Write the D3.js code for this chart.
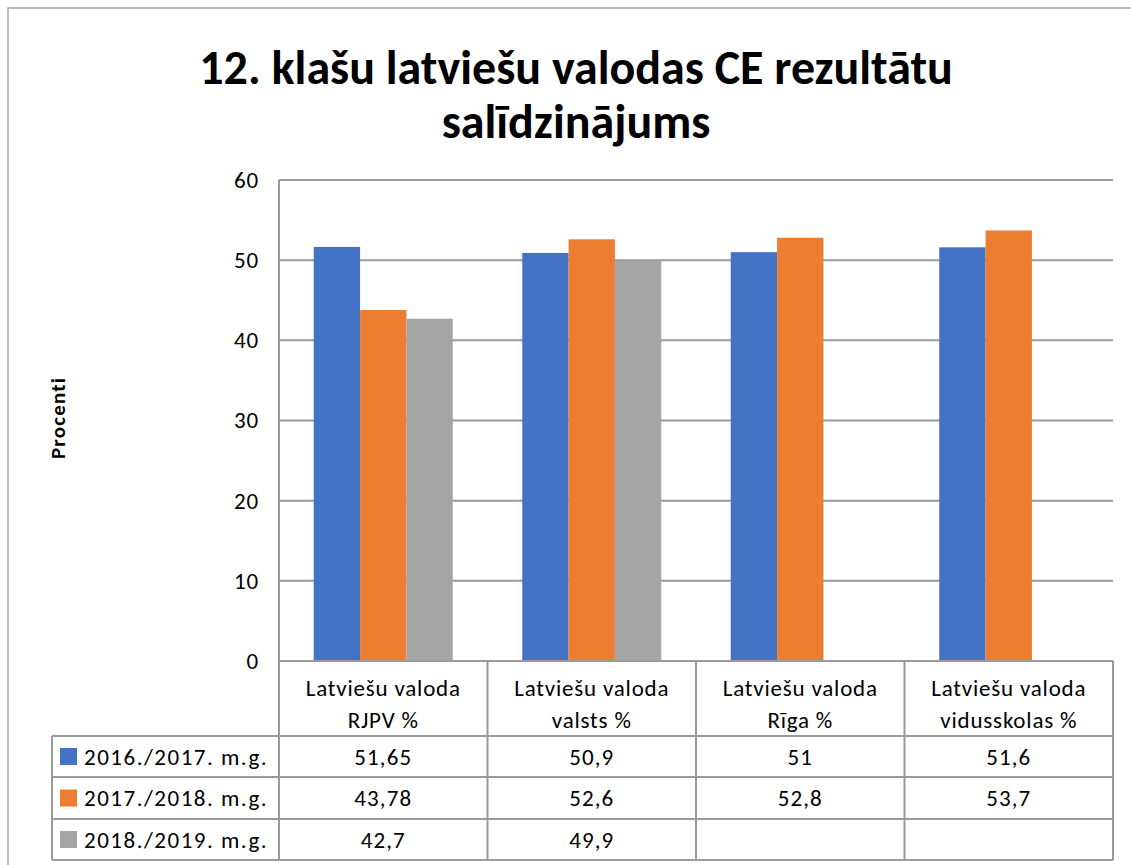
<!DOCTYPE html>
<html>
<head>
<meta charset="utf-8">
<script src="https://cdn.jsdelivr.net/npm/d3@7"></script>
<style>
  html, body { margin: 0; padding: 0; background: #fff; }
  svg { display: block; font-family: Carlito, Calibri, Lato, "Open Sans", sans-serif; }
</style>
</head>
<body>
<svg id="chart" width="1131" height="865"></svg>
<script>
// ---- data ----
const titleLines = ["12. klašu latviešu valodas CE rezultātu", "salīdzinājums"];
const yAxisTitle = "Procenti";
const categories = ["Latviešu valoda\nRJPV %", "Latviešu valoda\nvalsts %", "Latviešu valoda\nRīga %", "Latviešu valoda\nvidusskolas %"];
const seriesNames = ["2016./2017. m.g.", "2017./2018. m.g.", "2018./2019. m.g."];
const series2016 = [51.65, 50.9, 51, 51.6];
const series2017 = [43.78, 52.6, 52.8, 53.7];
const series2018 = [42.7, 49.9, null, null];
const yTicks = [0, 10, 20, 30, 40, 50, 60];
const seriesColors = ["#4472C4", "#ED7D31", "#A5A5A5"];

const seriesValues = [series2016, series2017, series2018];

// ---- layout ----
const svg = d3.select("#chart");
const W = 1131, H = 865;
const plot = { left: 279, right: 1113, top: 180, bottom: 661 };
const rowYs = [661, 736, 777, 819, 860];
const legendLeft = 52;
const gridColor = "#9a9a9a";
const fontSize = 23;
const spacing = 1.1;

// outer border
svg.append("rect")
  .attr("x", 8).attr("y", 8).attr("width", W + 20).attr("height", H + 20)
  .attr("fill", "none").attr("stroke", "#a6a6a6").attr("stroke-width", 1.5);

// title
const title = svg.append("text")
  .attr("text-anchor", "middle")
  .attr("font-weight", "bold")
  .attr("font-size", 48)
  .attr("fill", "#000");
titleLines.forEach((t, i) => {
  title.append("tspan").attr("x", 576).attr("y", 84 + i * 54).text(t);
});

// scales
const x = d3.scaleBand().domain(categories).range([plot.left, plot.right]).paddingInner(0).paddingOuter(0);
const y = d3.scaleLinear().domain([0, 60]).range([plot.bottom, plot.top]);
const bw = x.bandwidth();
const barW = bw / 4.5;       // gap width 150%
const groupOffset = barW * 0.75;
const xs = d3.scaleBand().domain(d3.range(seriesNames.length)).range([groupOffset, groupOffset + barW * 3]).padding(0);

// gridlines
svg.append("g")
  .selectAll("line")
  .data(yTicks.filter(d => d > 0))
  .join("line")
  .attr("x1", plot.left).attr("x2", plot.right)
  .attr("y1", d => y(d)).attr("y2", d => y(d))
  .attr("stroke", gridColor).attr("stroke-width", 2);

// y axis
const yAxis = d3.axisLeft(y).tickValues(yTicks).tickSize(0).tickPadding(20);
const gy = svg.append("g").attr("transform", `translate(${plot.left},0)`).call(yAxis);
gy.select(".domain").remove();
gy.selectAll("text")
  .attr("font-size", fontSize)
  .attr("letter-spacing", 0.8)
  .attr("font-family", "Carlito, Calibri, Lato, 'Open Sans', sans-serif")
  .attr("fill", "#000");

// bars
const groups = svg.append("g").selectAll("g")
  .data(categories)
  .join("g")
  .attr("transform", d => `translate(${x(d)},0)`);
groups.selectAll("rect")
  .data((d, ci) => seriesValues.map((s, si) => ({ si, v: s[ci] })).filter(o => o.v != null))
  .join("rect")
  .attr("x", d => xs(d.si))
  .attr("width", xs.bandwidth())
  .attr("y", d => y(d.v))
  .attr("height", d => y(0) - y(d.v))
  .attr("fill", d => seriesColors[d.si]);

// left axis line
svg.append("line")
  .attr("x1", plot.left).attr("x2", plot.left)
  .attr("y1", plot.top).attr("y2", rowYs[rowYs.length - 1])
  .attr("stroke", gridColor).attr("stroke-width", 2);

// data table
const tbl = svg.append("g").attr("stroke", gridColor).attr("stroke-width", 2);
tbl.append("line").attr("x1", plot.left).attr("x2", plot.right).attr("y1", rowYs[0]).attr("y2", rowYs[0]);
rowYs.slice(1).forEach(ry => {
  tbl.append("line").attr("x1", legendLeft).attr("x2", plot.right).attr("y1", ry).attr("y2", ry);
});
categories.forEach(c => {
  tbl.append("line").attr("x1", x(c) + bw).attr("x2", x(c) + bw).attr("y1", rowYs[0]).attr("y2", rowYs[4]);
});
tbl.append("line").attr("x1", legendLeft).attr("x2", legendLeft).attr("y1", rowYs[1]).attr("y2", rowYs[4]);

// category header text
const hdr = svg.append("g");
categories.forEach(c => {
  const lines = c.split("\n");
  const t = hdr.append("text")
    .attr("text-anchor", "middle")
    .attr("font-size", fontSize)
    .attr("letter-spacing", 0.8)
    .attr("fill", "#000");
  lines.forEach((ln, i) => {
    t.append("tspan").attr("x", x(c) + bw / 2).attr("y", 696 + i * 32).text(ln);
  });
});

// legend rows + values
const fmt = v => String(v).replace(".", ",");
seriesNames.forEach((name, si) => {
  const top = rowYs[si + 1], bot = rowYs[si + 2];
  const mid = (top + bot) / 2;
  svg.append("rect")
    .attr("x", 60).attr("y", mid - 8.5).attr("width", 17).attr("height", 17)
    .attr("fill", seriesColors[si]);
  svg.append("text")
    .attr("x", 84).attr("y", mid + 8)
    .attr("font-size", fontSize).attr("letter-spacing", 1.5).attr("fill", "#000")
    .text(name);
  categories.forEach((c, ci) => {
    const v = seriesValues[si][ci];
    if (v == null) return;
    svg.append("text")
      .attr("x", x(c) + bw / 2).attr("y", mid + 8)
      .attr("text-anchor", "middle")
      .attr("font-size", fontSize).attr("letter-spacing", spacing).attr("fill", "#000")
      .text(fmt(v));
  });
});

// y axis title
svg.append("text")
  .attr("transform", `translate(65,418) rotate(-90)`)
  .attr("text-anchor", "middle")
  .attr("font-weight", "bold")
  .attr("font-size", 21)
  .attr("letter-spacing", 1.2)
  .attr("fill", "#000")
  .text(yAxisTitle);
</script>
</body>
</html>
